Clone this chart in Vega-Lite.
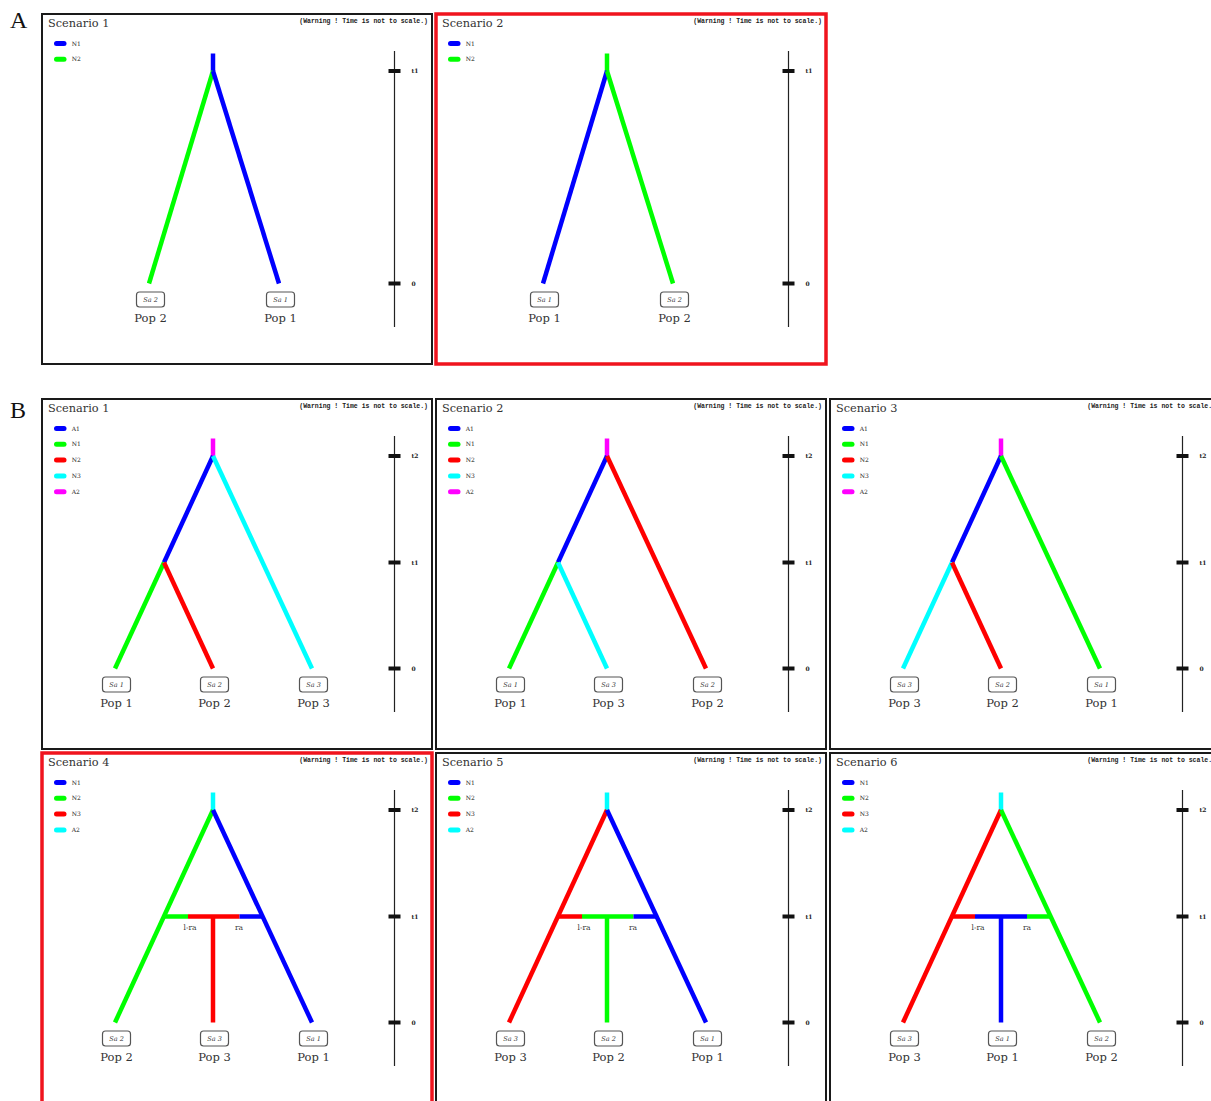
{
"$schema":"https://vega.github.io/schema/vega-lite/v6.json",
"padding":{"left":10,"top":9,"right":0,"bottom":0},
"background":"white",
"spacing":32,
"config":{"view":{"stroke":null},
 "header":{"labels":false,"labelFontSize":0,"labelPadding":0,"labelExpr":"''"},
 "headerFacet":{"labels":false,"labelFontSize":0,"labelPadding":0,"labelExpr":"''"}},
"data":{"values":[
{"p":"A1","k":"fr","x":0,"x2":390,"y":0,"y2":350,"h":0},
{"p":"A1","k":"gl","x":-32,"y":14.3,"t":"A"},
{"p":"A1","k":"ti","x":6,"y":10,"t":"Scenario 1"},
{"p":"A1","k":"wa","x":386,"y":6.5,"t":"(Warning ! Time is not to scale.)"},
{"p":"A1","k":"lg","x":14.5,"x2":22,"y":29.5,"c":1,"t":"N1"},
{"p":"A1","k":"lg","x":14.5,"x2":22,"y":45.3,"c":2,"t":"N2"},
{"p":"A1","k":"br","x":171,"y":39.5,"x2":171,"y2":57,"c":1},
{"p":"A1","k":"br","x":171,"y":57,"x2":107,"y2":269.5,"c":2},
{"p":"A1","k":"br","x":171,"y":57,"x2":237,"y2":269.5,"c":1},
{"p":"A1","k":"sa","x":108.5,"y":285.5,"t":"Sa 2","u":"Pop 2"},
{"p":"A1","k":"sa","x":238.5,"y":285.5,"t":"Sa 1","u":"Pop 1"},
{"p":"A1","k":"ax","x":352.5,"y":37,"x2":352.5,"y2":313},
{"p":"A1","k":"tk","x":352.5,"y":57,"t":"t1"},
{"p":"A1","k":"tk","x":352.5,"y":269.5,"t":"0"},

{"p":"A2","k":"fr","x":0,"x2":390,"y":0,"y2":350,"h":1},
{"p":"A2","k":"ti","x":6,"y":10,"t":"Scenario 2"},
{"p":"A2","k":"wa","x":386,"y":6.5,"t":"(Warning ! Time is not to scale.)"},
{"p":"A2","k":"lg","x":14.5,"x2":22,"y":29.5,"c":1,"t":"N1"},
{"p":"A2","k":"lg","x":14.5,"x2":22,"y":45.3,"c":2,"t":"N2"},
{"p":"A2","k":"br","x":171,"y":39.5,"x2":171,"y2":57,"c":2},
{"p":"A2","k":"br","x":171,"y":57,"x2":107,"y2":269.5,"c":1},
{"p":"A2","k":"br","x":171,"y":57,"x2":237,"y2":269.5,"c":2},
{"p":"A2","k":"sa","x":108.5,"y":285.5,"t":"Sa 1","u":"Pop 1"},
{"p":"A2","k":"sa","x":238.5,"y":285.5,"t":"Sa 2","u":"Pop 2"},
{"p":"A2","k":"ax","x":352.5,"y":37,"x2":352.5,"y2":313},
{"p":"A2","k":"tk","x":352.5,"y":57,"t":"t1"},
{"p":"A2","k":"tk","x":352.5,"y":269.5,"t":"0"},

{"p":"B1","k":"fr","x":0,"x2":390,"y":0,"y2":350,"h":0},
{"p":"B1","k":"gl","x":-32,"y":19.3,"t":"B"},
{"p":"B1","k":"ti","x":6,"y":10,"t":"Scenario 1"},
{"p":"B1","k":"wa","x":386,"y":6.5,"t":"(Warning ! Time is not to scale.)"},
{"p":"B1","k":"lg","x":14.5,"x2":22,"y":29.5,"c":1,"t":"A1"},
{"p":"B1","k":"lg","x":14.5,"x2":22,"y":45.3,"c":2,"t":"N1"},
{"p":"B1","k":"lg","x":14.5,"x2":22,"y":61.1,"c":3,"t":"N2"},
{"p":"B1","k":"lg","x":14.5,"x2":22,"y":76.9,"c":4,"t":"N3"},
{"p":"B1","k":"lg","x":14.5,"x2":22,"y":92.7,"c":5,"t":"A2"},
{"p":"B1","k":"br","x":171,"y":39.5,"x2":171,"y2":57,"c":5},
{"p":"B1","k":"br","x":171,"y":57,"x2":122,"y2":163.5,"c":1},
{"p":"B1","k":"br","x":122,"y":163.5,"x2":73,"y2":269.5,"c":2},
{"p":"B1","k":"br","x":122,"y":163.5,"x2":171,"y2":269.5,"c":3},
{"p":"B1","k":"br","x":171,"y":57,"x2":270,"y2":269.5,"c":4},
{"p":"B1","k":"sa","x":74.5,"y":285.5,"t":"Sa 1","u":"Pop 1"},
{"p":"B1","k":"sa","x":172.5,"y":285.5,"t":"Sa 2","u":"Pop 2"},
{"p":"B1","k":"sa","x":271.5,"y":285.5,"t":"Sa 3","u":"Pop 3"},
{"p":"B1","k":"ax","x":352.5,"y":37,"x2":352.5,"y2":313},
{"p":"B1","k":"tk","x":352.5,"y":57,"t":"t2"},
{"p":"B1","k":"tk","x":352.5,"y":163.5,"t":"t1"},
{"p":"B1","k":"tk","x":352.5,"y":269.5,"t":"0"},

{"p":"B2","k":"fr","x":0,"x2":390,"y":0,"y2":350,"h":0},
{"p":"B2","k":"ti","x":6,"y":10,"t":"Scenario 2"},
{"p":"B2","k":"wa","x":386,"y":6.5,"t":"(Warning ! Time is not to scale.)"},
{"p":"B2","k":"lg","x":14.5,"x2":22,"y":29.5,"c":1,"t":"A1"},
{"p":"B2","k":"lg","x":14.5,"x2":22,"y":45.3,"c":2,"t":"N1"},
{"p":"B2","k":"lg","x":14.5,"x2":22,"y":61.1,"c":3,"t":"N2"},
{"p":"B2","k":"lg","x":14.5,"x2":22,"y":76.9,"c":4,"t":"N3"},
{"p":"B2","k":"lg","x":14.5,"x2":22,"y":92.7,"c":5,"t":"A2"},
{"p":"B2","k":"br","x":171,"y":39.5,"x2":171,"y2":57,"c":5},
{"p":"B2","k":"br","x":171,"y":57,"x2":122,"y2":163.5,"c":1},
{"p":"B2","k":"br","x":122,"y":163.5,"x2":73,"y2":269.5,"c":2},
{"p":"B2","k":"br","x":122,"y":163.5,"x2":171,"y2":269.5,"c":4},
{"p":"B2","k":"br","x":171,"y":57,"x2":270,"y2":269.5,"c":3},
{"p":"B2","k":"sa","x":74.5,"y":285.5,"t":"Sa 1","u":"Pop 1"},
{"p":"B2","k":"sa","x":172.5,"y":285.5,"t":"Sa 3","u":"Pop 3"},
{"p":"B2","k":"sa","x":271.5,"y":285.5,"t":"Sa 2","u":"Pop 2"},
{"p":"B2","k":"ax","x":352.5,"y":37,"x2":352.5,"y2":313},
{"p":"B2","k":"tk","x":352.5,"y":57,"t":"t2"},
{"p":"B2","k":"tk","x":352.5,"y":163.5,"t":"t1"},
{"p":"B2","k":"tk","x":352.5,"y":269.5,"t":"0"},

{"p":"B3","k":"fr","x":0,"x2":390,"y":0,"y2":350,"h":0},
{"p":"B3","k":"ti","x":6,"y":10,"t":"Scenario 3"},
{"p":"B3","k":"wa","x":386,"y":6.5,"t":"(Warning ! Time is not to scale.)"},
{"p":"B3","k":"lg","x":14.5,"x2":22,"y":29.5,"c":1,"t":"A1"},
{"p":"B3","k":"lg","x":14.5,"x2":22,"y":45.3,"c":2,"t":"N1"},
{"p":"B3","k":"lg","x":14.5,"x2":22,"y":61.1,"c":3,"t":"N2"},
{"p":"B3","k":"lg","x":14.5,"x2":22,"y":76.9,"c":4,"t":"N3"},
{"p":"B3","k":"lg","x":14.5,"x2":22,"y":92.7,"c":5,"t":"A2"},
{"p":"B3","k":"br","x":171,"y":39.5,"x2":171,"y2":57,"c":5},
{"p":"B3","k":"br","x":171,"y":57,"x2":122,"y2":163.5,"c":1},
{"p":"B3","k":"br","x":122,"y":163.5,"x2":73,"y2":269.5,"c":4},
{"p":"B3","k":"br","x":122,"y":163.5,"x2":171,"y2":269.5,"c":3},
{"p":"B3","k":"br","x":171,"y":57,"x2":270,"y2":269.5,"c":2},
{"p":"B3","k":"sa","x":74.5,"y":285.5,"t":"Sa 3","u":"Pop 3"},
{"p":"B3","k":"sa","x":172.5,"y":285.5,"t":"Sa 2","u":"Pop 2"},
{"p":"B3","k":"sa","x":271.5,"y":285.5,"t":"Sa 1","u":"Pop 1"},
{"p":"B3","k":"ax","x":352.5,"y":37,"x2":352.5,"y2":313},
{"p":"B3","k":"tk","x":352.5,"y":57,"t":"t2"},
{"p":"B3","k":"tk","x":352.5,"y":163.5,"t":"t1"},
{"p":"B3","k":"tk","x":352.5,"y":269.5,"t":"0"},

{"p":"B4","k":"fr","x":0,"x2":390,"y":0,"y2":350,"h":1},
{"p":"B4","k":"ti","x":6,"y":10,"t":"Scenario 4"},
{"p":"B4","k":"wa","x":386,"y":6.5,"t":"(Warning ! Time is not to scale.)"},
{"p":"B4","k":"lg","x":14.5,"x2":22,"y":29.5,"c":1,"t":"N1"},
{"p":"B4","k":"lg","x":14.5,"x2":22,"y":45.3,"c":2,"t":"N2"},
{"p":"B4","k":"lg","x":14.5,"x2":22,"y":61.1,"c":3,"t":"N3"},
{"p":"B4","k":"lg","x":14.5,"x2":22,"y":76.9,"c":4,"t":"A2"},
{"p":"B4","k":"br","x":171,"y":39.5,"x2":171,"y2":57,"c":4},
{"p":"B4","k":"br","x":171,"y":57,"x2":73,"y2":269.5,"c":2},
{"p":"B4","k":"br","x":171,"y":57,"x2":270,"y2":269.5,"c":1},
{"p":"B4","k":"br","x":171,"y":163.5,"x2":171,"y2":269.5,"c":3},
{"p":"B4","k":"br","x":122,"y":163.5,"x2":146,"y2":163.5,"c":2},
{"p":"B4","k":"br","x":146,"y":163.5,"x2":197.5,"y2":163.5,"c":3},
{"p":"B4","k":"br","x":197.5,"y":163.5,"x2":220,"y2":163.5,"c":1},
{"p":"B4","k":"ad","x":148,"y":174.5,"t":"l-ra"},
{"p":"B4","k":"ad","x":197,"y":174.5,"t":"ra"},
{"p":"B4","k":"sa","x":74.5,"y":285.5,"t":"Sa 2","u":"Pop 2"},
{"p":"B4","k":"sa","x":172.5,"y":285.5,"t":"Sa 3","u":"Pop 3"},
{"p":"B4","k":"sa","x":271.5,"y":285.5,"t":"Sa 1","u":"Pop 1"},
{"p":"B4","k":"ax","x":352.5,"y":37,"x2":352.5,"y2":313},
{"p":"B4","k":"tk","x":352.5,"y":57,"t":"t2"},
{"p":"B4","k":"tk","x":352.5,"y":163.5,"t":"t1"},
{"p":"B4","k":"tk","x":352.5,"y":269.5,"t":"0"},

{"p":"B5","k":"fr","x":0,"x2":390,"y":0,"y2":350,"h":0},
{"p":"B5","k":"ti","x":6,"y":10,"t":"Scenario 5"},
{"p":"B5","k":"wa","x":386,"y":6.5,"t":"(Warning ! Time is not to scale.)"},
{"p":"B5","k":"lg","x":14.5,"x2":22,"y":29.5,"c":1,"t":"N1"},
{"p":"B5","k":"lg","x":14.5,"x2":22,"y":45.3,"c":2,"t":"N2"},
{"p":"B5","k":"lg","x":14.5,"x2":22,"y":61.1,"c":3,"t":"N3"},
{"p":"B5","k":"lg","x":14.5,"x2":22,"y":76.9,"c":4,"t":"A2"},
{"p":"B5","k":"br","x":171,"y":39.5,"x2":171,"y2":57,"c":4},
{"p":"B5","k":"br","x":171,"y":57,"x2":73,"y2":269.5,"c":3},
{"p":"B5","k":"br","x":171,"y":57,"x2":270,"y2":269.5,"c":1},
{"p":"B5","k":"br","x":171,"y":163.5,"x2":171,"y2":269.5,"c":2},
{"p":"B5","k":"br","x":122,"y":163.5,"x2":146,"y2":163.5,"c":3},
{"p":"B5","k":"br","x":146,"y":163.5,"x2":197.5,"y2":163.5,"c":2},
{"p":"B5","k":"br","x":197.5,"y":163.5,"x2":220,"y2":163.5,"c":1},
{"p":"B5","k":"ad","x":148,"y":174.5,"t":"l-ra"},
{"p":"B5","k":"ad","x":197,"y":174.5,"t":"ra"},
{"p":"B5","k":"sa","x":74.5,"y":285.5,"t":"Sa 3","u":"Pop 3"},
{"p":"B5","k":"sa","x":172.5,"y":285.5,"t":"Sa 2","u":"Pop 2"},
{"p":"B5","k":"sa","x":271.5,"y":285.5,"t":"Sa 1","u":"Pop 1"},
{"p":"B5","k":"ax","x":352.5,"y":37,"x2":352.5,"y2":313},
{"p":"B5","k":"tk","x":352.5,"y":57,"t":"t2"},
{"p":"B5","k":"tk","x":352.5,"y":163.5,"t":"t1"},
{"p":"B5","k":"tk","x":352.5,"y":269.5,"t":"0"},

{"p":"B6","k":"fr","x":0,"x2":390,"y":0,"y2":350,"h":0},
{"p":"B6","k":"ti","x":6,"y":10,"t":"Scenario 6"},
{"p":"B6","k":"wa","x":386,"y":6.5,"t":"(Warning ! Time is not to scale.)"},
{"p":"B6","k":"lg","x":14.5,"x2":22,"y":29.5,"c":1,"t":"N1"},
{"p":"B6","k":"lg","x":14.5,"x2":22,"y":45.3,"c":2,"t":"N2"},
{"p":"B6","k":"lg","x":14.5,"x2":22,"y":61.1,"c":3,"t":"N3"},
{"p":"B6","k":"lg","x":14.5,"x2":22,"y":76.9,"c":4,"t":"A2"},
{"p":"B6","k":"br","x":171,"y":39.5,"x2":171,"y2":57,"c":4},
{"p":"B6","k":"br","x":171,"y":57,"x2":73,"y2":269.5,"c":3},
{"p":"B6","k":"br","x":171,"y":57,"x2":270,"y2":269.5,"c":2},
{"p":"B6","k":"br","x":171,"y":163.5,"x2":171,"y2":269.5,"c":1},
{"p":"B6","k":"br","x":122,"y":163.5,"x2":145,"y2":163.5,"c":3},
{"p":"B6","k":"br","x":145,"y":163.5,"x2":197,"y2":163.5,"c":1},
{"p":"B6","k":"br","x":197,"y":163.5,"x2":220,"y2":163.5,"c":2},
{"p":"B6","k":"ad","x":148,"y":174.5,"t":"l-ra"},
{"p":"B6","k":"ad","x":197,"y":174.5,"t":"ra"},
{"p":"B6","k":"sa","x":74.5,"y":285.5,"t":"Sa 3","u":"Pop 3"},
{"p":"B6","k":"sa","x":172.5,"y":285.5,"t":"Sa 1","u":"Pop 1"},
{"p":"B6","k":"sa","x":271.5,"y":285.5,"t":"Sa 2","u":"Pop 2"},
{"p":"B6","k":"ax","x":352.5,"y":37,"x2":352.5,"y2":313},
{"p":"B6","k":"tk","x":352.5,"y":57,"t":"t2"},
{"p":"B6","k":"tk","x":352.5,"y":163.5,"t":"t1"},
{"p":"B6","k":"tk","x":352.5,"y":269.5,"t":"0"}
]},
"vconcat":[
{"transform":[{"filter":"test(/^A/, datum.p)"}],
 "facet":{"field":"p","type":"nominal","title":null,"header":{"labels":false,"labelFontSize":0,"labelPadding":0,"labelExpr":"''"}},
 "columns":2,"spacing":4,"bounds":"flush",
 "spec":{
  "width":390,"height":350,
  "encoding":{
   "x":{"field":"x","type":"quantitative","scale":{"domain":[0,390],"nice":false,"zero":false},"axis":null},
   "y":{"field":"y","type":"quantitative","scale":{"domain":[0,350],"nice":false,"zero":false,"reverse":true},"axis":null}
  },
  "layer":[
   {"transform":[{"filter":"datum.k=='fr'"}],"mark":{"type":"rect","fill":"transparent"},"encoding":{"x2":{"field":"x2"},"y2":{"field":"y2"},"stroke":{"condition":{"test":"datum.h==1","value":"#f0141e"},"value":"#1a1a1a"},"strokeWidth":{"condition":{"test":"datum.h==1","value":3.5},"value":2}}},
   {"transform":[{"filter":"datum.k=='br'"}],"mark":{"type":"rule","strokeWidth":4.5},"encoding":{"x2":{"field":"x2"},"y2":{"field":"y2"},"color":{"field":"c","type":"ordinal","scale":{"domain":[1,2,3,4,5],"range":["#0000ff","#00ff00","#ff0000","#00ffff","#ff00ff"]},"legend":null}}},
   {"transform":[{"filter":"datum.k=='lg'"}],"mark":{"type":"rule","strokeWidth":5,"strokeCap":"round"},"encoding":{"x2":{"field":"x2"},"color":{"field":"c","type":"ordinal","legend":null}}},
   {"transform":[{"filter":"datum.k=='lg'"}],"mark":{"type":"text","align":"left","baseline":"middle","dx":15.2,"font":"DejaVu Serif","fontSize":6,"color":"#222"},"encoding":{"text":{"field":"t"}}},
   {"transform":[{"filter":"datum.k=='ti'"}],"mark":{"type":"text","align":"left","baseline":"middle","font":"DejaVu Serif","fontSize":11.3,"color":"#333"},"encoding":{"text":{"field":"t"}}},
   {"transform":[{"filter":"datum.k=='wa'"}],"mark":{"type":"text","align":"right","baseline":"middle","font":"Liberation Mono","fontSize":6.5,"fontWeight":"bold","color":"#222"},"encoding":{"text":{"field":"t"}}},
   {"transform":[{"filter":"datum.k=='sa'"}],"mark":{"type":"rect","width":28,"height":15,"cornerRadius":3,"fill":"white","stroke":"#555","strokeWidth":1.2}},
   {"transform":[{"filter":"datum.k=='sa'"}],"mark":{"type":"text","align":"center","baseline":"middle","font":"DejaVu Serif","fontStyle":"italic","fontSize":6.5,"color":"#333"},"encoding":{"text":{"field":"t"}}},
   {"transform":[{"filter":"datum.k=='sa'"}],"mark":{"type":"text","align":"center","baseline":"middle","dy":19,"font":"DejaVu Serif","fontSize":11.5,"color":"#333"},"encoding":{"text":{"field":"u"}}},
   {"transform":[{"filter":"datum.k=='ad'"}],"mark":{"type":"text","align":"center","baseline":"middle","font":"DejaVu Serif","fontSize":7.5,"color":"#333"},"encoding":{"text":{"field":"t"}}},
   {"transform":[{"filter":"datum.k=='ax'"}],"mark":{"type":"rule","strokeWidth":1.2,"color":"#222"},"encoding":{"y2":{"field":"y2"}}},
   {"transform":[{"filter":"datum.k=='tk'"}],"mark":{"type":"tick","orient":"horizontal","size":12,"thickness":4,"color":"#111","opacity":1}},
   {"transform":[{"filter":"datum.k=='tk'"}],"mark":{"type":"text","align":"left","baseline":"middle","dx":17,"font":"DejaVu Serif","fontSize":6,"fontWeight":"bold","color":"#222"},"encoding":{"text":{"field":"t"}}},
   {"transform":[{"filter":"datum.k=='gl'"}],"mark":{"type":"text","align":"left","baseline":"alphabetic","font":"Liberation Serif","fontSize":24,"color":"#111"},"encoding":{"text":{"field":"t"}}}
  ]
 }
},
{"transform":[{"filter":"test(/^B/, datum.p)"}],
 "facet":{"field":"p","type":"nominal","title":null,"header":{"labels":false,"labelFontSize":0,"labelPadding":0,"labelExpr":"''"}},
 "columns":3,"spacing":4,"bounds":"flush",
 "spec":{
  "width":390,"height":350,
  "encoding":{
   "x":{"field":"x","type":"quantitative","scale":{"domain":[0,390],"nice":false,"zero":false},"axis":null},
   "y":{"field":"y","type":"quantitative","scale":{"domain":[0,350],"nice":false,"zero":false,"reverse":true},"axis":null}
  },
  "layer":[
   {"transform":[{"filter":"datum.k=='fr'"}],"mark":{"type":"rect","fill":"transparent"},"encoding":{"x2":{"field":"x2"},"y2":{"field":"y2"},"stroke":{"condition":{"test":"datum.h==1","value":"#f0141e"},"value":"#1a1a1a"},"strokeWidth":{"condition":{"test":"datum.h==1","value":3.5},"value":2}}},
   {"transform":[{"filter":"datum.k=='br'"}],"mark":{"type":"rule","strokeWidth":4.5},"encoding":{"x2":{"field":"x2"},"y2":{"field":"y2"},"color":{"field":"c","type":"ordinal","scale":{"domain":[1,2,3,4,5],"range":["#0000ff","#00ff00","#ff0000","#00ffff","#ff00ff"]},"legend":null}}},
   {"transform":[{"filter":"datum.k=='lg'"}],"mark":{"type":"rule","strokeWidth":5,"strokeCap":"round"},"encoding":{"x2":{"field":"x2"},"color":{"field":"c","type":"ordinal","legend":null}}},
   {"transform":[{"filter":"datum.k=='lg'"}],"mark":{"type":"text","align":"left","baseline":"middle","dx":15.2,"font":"DejaVu Serif","fontSize":6,"color":"#222"},"encoding":{"text":{"field":"t"}}},
   {"transform":[{"filter":"datum.k=='ti'"}],"mark":{"type":"text","align":"left","baseline":"middle","font":"DejaVu Serif","fontSize":11.3,"color":"#333"},"encoding":{"text":{"field":"t"}}},
   {"transform":[{"filter":"datum.k=='wa'"}],"mark":{"type":"text","align":"right","baseline":"middle","font":"Liberation Mono","fontSize":6.5,"fontWeight":"bold","color":"#222"},"encoding":{"text":{"field":"t"}}},
   {"transform":[{"filter":"datum.k=='sa'"}],"mark":{"type":"rect","width":28,"height":15,"cornerRadius":3,"fill":"white","stroke":"#555","strokeWidth":1.2}},
   {"transform":[{"filter":"datum.k=='sa'"}],"mark":{"type":"text","align":"center","baseline":"middle","font":"DejaVu Serif","fontStyle":"italic","fontSize":6.5,"color":"#333"},"encoding":{"text":{"field":"t"}}},
   {"transform":[{"filter":"datum.k=='sa'"}],"mark":{"type":"text","align":"center","baseline":"middle","dy":19,"font":"DejaVu Serif","fontSize":11.5,"color":"#333"},"encoding":{"text":{"field":"u"}}},
   {"transform":[{"filter":"datum.k=='ad'"}],"mark":{"type":"text","align":"center","baseline":"middle","font":"DejaVu Serif","fontSize":7.5,"color":"#333"},"encoding":{"text":{"field":"t"}}},
   {"transform":[{"filter":"datum.k=='ax'"}],"mark":{"type":"rule","strokeWidth":1.2,"color":"#222"},"encoding":{"y2":{"field":"y2"}}},
   {"transform":[{"filter":"datum.k=='tk'"}],"mark":{"type":"tick","orient":"horizontal","size":12,"thickness":4,"color":"#111","opacity":1}},
   {"transform":[{"filter":"datum.k=='tk'"}],"mark":{"type":"text","align":"left","baseline":"middle","dx":17,"font":"DejaVu Serif","fontSize":6,"fontWeight":"bold","color":"#222"},"encoding":{"text":{"field":"t"}}},
   {"transform":[{"filter":"datum.k=='gl'"}],"mark":{"type":"text","align":"left","baseline":"alphabetic","font":"Liberation Serif","fontSize":24,"color":"#111"},"encoding":{"text":{"field":"t"}}}
  ]
 }
}
]
}
